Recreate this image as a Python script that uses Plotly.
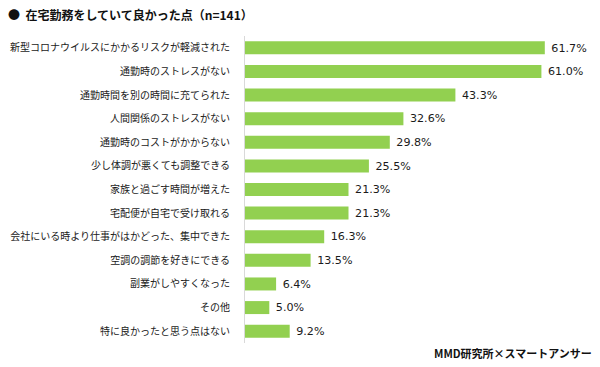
import plotly.graph_objects as go

categories = [
    "新型コロナウイルスにかかるリスクが軽減された",
    "通勤時のストレスがない",
    "通勤時間を別の時間に充てられた",
    "人間関係のストレスがない",
    "通勤時のコストがかからない",
    "少し体調が悪くても調整できる",
    "家族と過ごす時間が増えた",
    "宅配便が自宅で受け取れる",
    "会社にいる時より仕事がはかどった、集中できた",
    "空調の調節を好きにできる",
    "副業がしやすくなった",
    "その他",
    "特に良かったと思う点はない",
]
values = [61.7, 61.0, 43.3, 32.6, 29.8, 25.5, 21.3, 21.3, 16.3, 13.5, 6.4, 5.0, 9.2]
title_text = "●  在宅勤務をしていて良かった点（n=141）"
source_text = "MMD研究所×スマートアンサー"

W, H = 600, 367
L, R, T, B = 245, 10, 36, 24
pw, ph = W - L - R, H - T - B

def px_x(x):
    return (x - L) / pw

def px_y(y):
    return 1 - (y - T) / ph

jp = "Noto Sans CJK JP"

fig = go.Figure(go.Bar(
    x=values,
    y=categories,
    orientation="h",
    marker=dict(color="#92D050", line=dict(width=0)),
    text=["\u00a0" + f"{v:.1f}%" for v in values],
    textposition="outside",
    textfont=dict(family="DejaVu Sans", size=12, color="#1a1a1a"),
    cliponaxis=False,
    hoverinfo="skip",
))

fig.update_layout(
    width=W, height=H,
    margin=dict(l=L, r=R, t=T, b=B, autoexpand=False),
    plot_bgcolor="white", paper_bgcolor="white",
    bargap=0.45,
    showlegend=False,
    xaxis=dict(range=[0, 71], visible=False, fixedrange=True, automargin=False),
    yaxis=dict(
        autorange="reversed",
        automargin=False,
        showline=True, linecolor="#d9d9d9", linewidth=1,
        ticks="", ticklabelstandoff=12,
        tickfont=dict(family=jp, size=10, color="#1a1a1a"),
        showgrid=False, zeroline=False,
    ),
    annotations=[
        dict(text=title_text, xref="paper", yref="paper",
             x=px_x(6), y=px_y(15), xanchor="left", yanchor="middle",
             showarrow=False,
             font=dict(family=jp, size=12, color="#111111", weight="bold")),
        dict(text=source_text, xref="paper", yref="paper",
             x=px_x(594), y=px_y(353), xanchor="right", yanchor="middle",
             showarrow=False,
             font=dict(family=jp, size=11, color="#111111", weight="bold")),
    ],
)

fig.write_html(
    "out.html",
    config={"displayModeBar": False},
    post_script="document.body.style.margin='0';document.body.style.overflow='hidden';",
)
